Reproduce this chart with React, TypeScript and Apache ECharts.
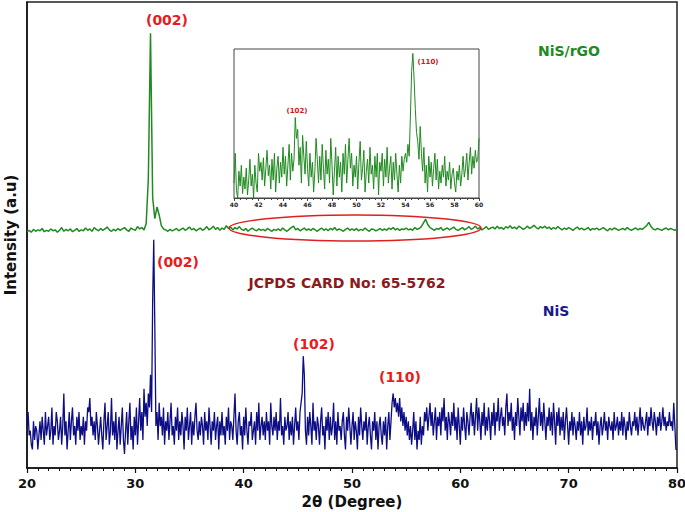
import React, { useEffect, useRef } from "react";
import * as echarts from "echarts";

// 2θ sampling for NiS (0.1° steps, 20–80)
const nisStart = 20;
const nisStep = 0.1;
const nisIntensity: number[] = [
  9,12,7,8,5,4,10,6,9,8,
  4,7,10,6,11,8,5,12,7,9,
  11,6,8,13,5,9,7,12,10,6,
  8,11,5,9,16,7,10,4,8,12,
  6,10,13,7,9,5,11,8,12,6,
  9,7,11,5,10,8,13,12,15,9,
  11,7,10,6,12,9,5,8,11,7,
  4,10,14,6,9,12,5,8,15,7,
  10,6,12,4,8,11,5,9,13,6,
  3,8,12,5,10,14,6,9,4,11,
  7,13,5,10,15,8,12,6,17,11,
  14,9,16,13,20,12,36,49,30,9,
  12,6,14,9,11,7,13,5,10,8,
  12,6,10,14,7,9,5,11,8,13,
  6,10,7,12,9,4,11,8,13,6,
  9,12,5,10,7,11,14,8,6,10,
  7,11,9,5,12,8,10,6,13,9,
  5,10,8,12,6,9,11,4,10,7,
  12,7,9,5,11,8,13,6,10,9,
  6,11,16,8,5,10,12,7,9,4,
  11,7,13,8,5,10,9,12,6,8,
  10,5,12,8,14,6,9,11,7,10,
  6,12,8,10,5,14,9,7,11,8,
  12,6,10,8,15,7,9,5,11,8,
  9,12,6,10,7,11,5,9,13,8,
  10,6,12,14,16,24,20,8,5,11,
  7,12,9,5,14,8,10,6,11,9,
  5,10,13,7,9,4,11,8,12,6,
  11,7,9,14,6,10,5,12,8,9,
  6,10,12,7,4,11,8,13,9,5,
  9,12,6,10,8,4,11,7,13,9,
  6,10,8,12,5,9,11,7,4,10,
  8,12,6,10,4,9,11,7,5,10,
  7,11,4,9,12,6,10,14,16,13,
  15,12,14,11,15,10,13,9,12,8,
  11,7,10,6,9,5,8,12,6,10,
  4,8,6,11,5,9,7,12,10,13,
  8,11,14,9,12,7,10,13,6,11,
  9,12,7,13,10,15,8,11,6,12,
  10,7,12,9,14,8,11,6,13,9,
  5,11,8,13,9,6,12,10,7,11,
  14,9,12,7,11,15,8,13,10,6,
  12,9,14,7,11,8,13,10,6,12,
  9,14,7,12,10,15,8,11,13,9,
  11,7,13,16,9,12,10,14,8,11,
  6,12,9,15,11,7,13,10,14,8,
  12,9,14,10,17,8,12,6,11,9,
  13,7,11,15,9,12,8,14,10,6,
  11,9,13,8,12,7,14,10,5,12,
  9,13,7,11,8,12,6,10,13,9,
  5,10,8,12,7,11,9,6,10,8,
  12,7,10,5,11,8,9,13,7,10,
  8,11,6,10,9,12,7,10,5,9,
  11,7,9,12,8,10,6,11,9,8,
  10,6,12,8,9,11,7,10,8,12,
  7,11,9,6,10,8,12,9,7,10,
  9,12,8,11,7,10,13,8,11,9,
  8,10,12,7,11,9,13,10,8,12,
  10,7,11,9,12,8,10,13,9,11,
  8,10,9,12,9,10,8,14,9,4,
  4
];

// NiS/rGO (0.2° steps, 20–80), offset pattern
const rgoStart = 20;
const rgoStep = 0.2;
const rgoIntensity: number[] = [
  50.7,51.0,50.6,51.2,50.8, 51.1,50.9,51.4,50.7,51.0,
  50.8,51.3,50.9,51.1,50.6, 51.0,51.6,50.8,51.2,50.9,
  51.3,50.7,51.0,51.4,50.8, 51.1,50.9,51.5,51.0,51.3,
  50.8,51.6,51.2,50.9,51.4, 51.0,51.3,51.7,51.1,50.8,
  51.2,50.9,51.4,51.0,51.3, 51.6,51.1,50.8,51.5,51.2,
  51.0,51.8,51.3,51.6,51.1, 52.4,62,93.3,58,53.5,
  56,54.3,52,51.3,51.1, 50.8,51.2,50.9,51.1,51.4,
  50.9,51.2,51.5,51.0,51.3, 51.7,51.1,51.4,50.9,51.2,
  51.5,51.0,51.3,51.8,51.1, 51.4,51.9,51.2,51.6,51.0,
  51.5,51.2,52.0,51.4,51.7, 51.1,51.6,51.3,51.8,51.2,
  51.0,51.4,50.8,51.2,51.5, 51.1,50.9,51.3,51.0,51.2,
  50.9,51.4,51.1,50.8,51.2, 51.0,51.3,50.9,51.5,51.1,
  50.8,51.2,51.6,51.9,51.1, 51.4,50.9,51.2,51.5,51.0,
  51.3,51.0,51.4,51.1,50.8, 51.2,51.5,51.0,51.3,50.9,
  51.4,51.1,51.6,51.0,51.3, 51.1,50.8,51.2,51.5,51.0,
  51.3,51.0,51.4,50.9,51.2, 51.0,51.5,51.1,50.8,51.3,
  51.2,50.9,51.1,51.4,51.0, 51.3,51.0,51.5,51.2,51.6,
  51.1,51.4,51.0,51.3,51.2, 51.5,51.1,51.3,51.0,51.6,
  51.2,51.4,51.8,52.6,53.4, 52.2,51.6,51.3,51.0,51.4,
  51.2,51.6,51.0,51.3,51.5, 51.1,51.4,51.7,51.2,51.0,
  51.3,51.6,51.1,51.4,51.8, 51.2,51.5,51.9,51.3,51.6,
  51.1,51.4,51.8,51.2,51.5, 51.7,51.3,51.9,51.4,51.6,
  51.2,51.8,51.5,52.0,51.4, 51.7,51.3,51.9,51.6,51.2,
  51.5,51.9,51.4,51.7,52.1, 51.6,51.3,51.8,51.5,51.9,
  51.4,51.7,51.2,51.6,51.3, 51.8,51.4,51.1,51.5,51.2,
  51.6,51.3,51.0,51.4,51.7, 51.2,51.5,51.1,51.3,51.6,
  51.0,51.4,51.2,51.5,51.1, 51.3,51.6,51.2,50.9,51.4,
  51.1,51.5,51.3,51.0,51.2, 51.4,51.1,51.6,51.2,51.0,
  51.3,51.5,51.1,51.4,51.2, 51.6,52.0,52.7,51.8,51.3,
  51.1,51.4,51.2,51.0,51.3, 51.5,51.1,51.4,51.2,51.0,
  51.3
];

// Inset: NiS/rGO 40–60° (0.1° steps), relative intensity
const insetStart = 40;
const insetStep = 0.1;
const insetIntensity: number[] = [
  10,30,5,0,18,8,22,3,14,6,
  20,2,12,26,8,16,0,22,10,4,
  30,18,24,12,27,8,20,32,15,22,
  6,26,12,30,4,20,28,10,24,14,
  34,16,28,8,22,36,12,30,18,26,
  54,40,46,22,34,10,42,28,16,38,
  20,8,30,14,24,4,18,40,26,10,
  28,12,36,20,6,32,16,26,10,40,
  22,2,18,34,8,28,14,24,4,30,
  16,36,10,26,40,20,30,8,22,14,
  28,6,24,38,12,20,32,4,18,26,
  10,34,16,22,6,28,14,30,2,24,
  18,30,8,26,14,34,10,20,28,6,
  24,12,30,16,4,22,10,28,18,26,
  30,24,36,28,55,85,97,80,60,44,
  38,26,48,30,18,34,10,22,4,28,
  14,24,8,20,30,12,26,6,18,10,
  22,14,28,8,18,12,24,6,16,20,
  10,4,18,12,22,8,16,28,14,20,
  30,12,24,34,16,28,20,32,24,26,
  40
];

const xTicksMain = [20, 30, 40, 50, 60, 70, 80];
const xTicksInset = [40, 42, 44, 46, 48, 50, 52, 54, 56, 58, 60];

const toPairs = (start: number, step: number, vals: number[]) =>
  vals.map((v, i) => [Math.round((start + i * step) * 100) / 100, v]);

const FONT = "'DejaVu Sans', sans-serif";

export default function App() {
  const ref = useRef<HTMLDivElement>(null);
  useEffect(() => {
    document.body.style.margin = "0";
    const chart = echarts.init(ref.current!, null, { renderer: "svg" });
    chart.setOption({
      animation: false,
      backgroundColor: "#fff",
      grid: [
        { left: 27, right: 8, top: 2, bottom: 44, show: true, borderColor: "#222", borderWidth: 1.5, backgroundColor: "transparent", outerBoundsMode: "none", containLabel: false },
        { left: 234, top: 49, width: 245, height: 149, show: true, borderColor: "#444", borderWidth: 1, backgroundColor: "#fff", outerBoundsMode: "none", containLabel: false },
      ],
      xAxis: [
        {
          gridIndex: 0, type: "value", min: xTicksMain[0], max: xTicksMain[xTicksMain.length - 1], interval: 10,
          axisLine: { show: true, lineStyle: { color: "#111", width: 1.5 } },
          axisTick: { show: true, inside: false, length: 5, lineStyle: { color: "#111", width: 1.2 } },
          minorTick: { show: true, splitNumber: 10, length: 3, lineStyle: { color: "#111", width: 1 } },
          splitLine: { show: false },
          axisLabel: { fontSize: 13, fontWeight: "bold", color: "#111", fontFamily: FONT, margin: 9 },
          name: "2\u03b8 (Degree)", nameLocation: "middle", nameGap: 26,
          nameTextStyle: { fontSize: 15, fontWeight: "bold", color: "#111", fontFamily: FONT },
        },
        {
          gridIndex: 1, type: "value", min: xTicksInset[0], max: xTicksInset[xTicksInset.length - 1], interval: 2,
          axisLine: { show: true, lineStyle: { color: "#444", width: 1 } },
          axisTick: { show: true, length: 3, lineStyle: { color: "#444" } },
          minorTick: { show: true, splitNumber: 4, length: 2, lineStyle: { color: "#444" } },
          splitLine: { show: false },
          axisLabel: { fontSize: 6, fontWeight: "bold", color: "#222", fontFamily: FONT, margin: 3 },
        },
      ],
      yAxis: [
        {
          gridIndex: 0, type: "value", min: 0, max: 100,
          axisLine: { show: true, lineStyle: { color: "#111", width: 1.5 } },
          axisTick: { show: false }, axisLabel: { show: false }, splitLine: { show: false },
          name: "Intensity (a.u)", nameLocation: "middle", nameGap: 9, nameRotate: 90,
          nameTextStyle: { fontSize: 15, fontWeight: "bold", color: "#111", fontFamily: FONT },
        },
        {
          gridIndex: 1, type: "value", min: 0, max: 100,
          axisLine: { show: false }, axisTick: { show: false }, axisLabel: { show: false }, splitLine: { show: false },
        },
      ],
      series: [
        {
          name: "NiS/rGO", type: "line", xAxisIndex: 0, yAxisIndex: 0, showSymbol: false,
          data: toPairs(rgoStart, rgoStep, rgoIntensity),
          lineStyle: { color: "#1f8a1f", width: 1.5 }, z: 3,
        },
        {
          name: "NiS", type: "line", xAxisIndex: 0, yAxisIndex: 0, showSymbol: false,
          data: toPairs(nisStart, nisStep, nisIntensity),
          lineStyle: { color: "#0d0d85", width: 1.3 }, z: 2,
        },
        {
          name: "inset", type: "line", xAxisIndex: 1, yAxisIndex: 1, showSymbol: false,
          data: toPairs(insetStart, insetStep, insetIntensity),
          lineStyle: { color: "#1f8a1f", width: 1 }, z: 4,
        },
      ],
      graphic: [
        { type: "ellipse", shape: { cx: 355, cy: 228, rx: 126, ry: 13 }, style: { fill: "none", stroke: "#e02020", lineWidth: 1.6 }, z: 10 },
        { type: "text", x: 167, y: 20, style: { text: "(002)", fill: "#e81c1c", font: `bold 14px ${FONT}`, align: "center", verticalAlign: "middle" }, z: 10 },
        { type: "text", x: 178, y: 262, style: { text: "(002)", fill: "#e81c1c", font: `bold 14px ${FONT}`, align: "center", verticalAlign: "middle" }, z: 10 },
        { type: "text", x: 314, y: 344, style: { text: "(102)", fill: "#e81c1c", font: `bold 14px ${FONT}`, align: "center", verticalAlign: "middle" }, z: 10 },
        { type: "text", x: 400, y: 377, style: { text: "(110)", fill: "#e81c1c", font: `bold 14px ${FONT}`, align: "center", verticalAlign: "middle" }, z: 10 },
        { type: "text", x: 297, y: 111, style: { text: "(102)", fill: "#d01818", font: `bold 7px ${FONT}`, align: "center", verticalAlign: "middle" }, z: 10 },
        { type: "text", x: 428, y: 62, style: { text: "(110)", fill: "#d01818", font: `bold 7px ${FONT}`, align: "center", verticalAlign: "middle" }, z: 10 },
        { type: "text", x: 569, y: 51, style: { text: "NiS/rGO", fill: "#1f8a1f", font: `bold 14px ${FONT}`, align: "center", verticalAlign: "middle" }, z: 10 },
        { type: "text", x: 347, y: 283, style: { text: "JCPDS CARD No: 65-5762", fill: "#8b1a1a", font: `bold 14px ${FONT}`, align: "center", verticalAlign: "middle" }, z: 10 },
        { type: "text", x: 556, y: 311, style: { text: "NiS", fill: "#1a1a8a", font: `bold 14px ${FONT}`, align: "center", verticalAlign: "middle" }, z: 10 },
      ],
    });
    return () => chart.dispose();
  }, []);
  return <div ref={ref} style={{ width: 685, height: 512 }} />;
}
